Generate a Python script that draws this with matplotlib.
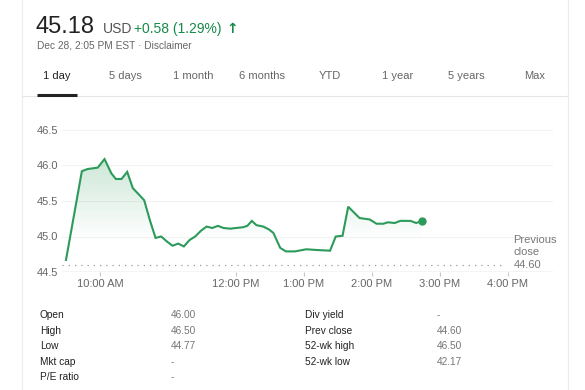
#!/usr/bin/env python3
"""Intraday quote card: 1-day price line with previous close + key stats table."""
import numpy as np
import matplotlib
matplotlib.use("Agg")
import matplotlib.pyplot as plt
from matplotlib.patches import Polygon

plt.rcParams.update({"font.family": ["Liberation Sans", "DejaVu Sans"], "font.size": 8})

# ---- data ----
times = ["9:30", "9:44", "9:49", "9:58", "10:04", "10:10", "10:14", "10:19", "10:24", "10:29",
         "10:35", "10:39", "10:44", "10:49", "10:54", "10:59", "11:04", "11:09", "11:14", "11:19",
         "11:24", "11:29", "11:34", "11:39", "11:44", "11:49", "11:55", "12:00", "12:06", "12:10",
         "12:14", "12:18", "12:24", "12:29", "12:33", "12:39", "12:44", "12:52", "13:02", "13:11",
         "13:23", "13:28", "13:34", "13:39", "13:49", "13:58", "14:04", "14:10", "14:14", "14:20",
         "14:25", "14:34", "14:39", "14:44"]
prices = [44.67, 45.92, 45.95, 45.97, 46.09, 45.89, 45.81, 45.81, 45.91, 45.68,
          45.58, 45.51, 45.23, 44.98, 45.00, 44.93, 44.87, 44.90, 44.86, 44.95,
          45.00, 45.08, 45.14, 45.12, 45.15, 45.12, 45.11, 45.12, 45.13, 45.15,
          45.22, 45.16, 45.14, 45.10, 45.05, 44.84, 44.79, 44.79, 44.82, 44.81,
          44.80, 45.00, 45.01, 45.42, 45.26, 45.24, 45.18, 45.18, 45.20, 45.19,
          45.22, 45.22, 45.19, 45.22]
prev_close = 44.60
yticks = [44.5, 45.0, 45.5, 46.0, 46.5]
xtick_hours = [10, 12, 13, 14, 15, 16]
xtick_labels = ["10:00 AM", "12:00 PM", "1:00 PM", "2:00 PM", "3:00 PM", "4:00 PM"]
tabs = ["1 day", "5 days", "1 month", "6 months", "YTD", "1 year", "5 years", "Max"]
left_labels = ["Open", "High", "Low", "Mkt cap", "P/E ratio"]
left_vals = ["46.00", "46.50", "44.77", "-", "-"]
right_labels = ["Div yield", "Prev close", "52-wk high", "52-wk low"]
right_vals = ["-", "44.60", "46.50", "42.17"]

hours = np.array([int(t.split(":")[0]) + int(t.split(":")[1]) / 60 for t in times])
px = np.array(prices)

GREEN = "#2c9a5a"
W, H = 585, 390
fig = plt.figure(figsize=(W / 100, H / 100), dpi=100)

# overlay in pixel coords for the card chrome / text
ov = fig.add_axes([0, 0, 1, 1])
ov.set_xlim(0, W); ov.set_ylim(H, 0); ov.axis("off")
for xb in (22, 568):
    ov.plot([xb, xb], [0, H], color="#ececec", lw=0.8)
ov.plot([22, 568], [96, 96], color="#e6e6e6", lw=0.8)
ov.plot([37, 77], [95, 95], color="#222222", lw=2.2, solid_capstyle="butt")

ov.text(36, 33, "45.18", fontsize=17, color="#222222", va="baseline")
ov.text(103, 33, "USD", fontsize=10, color="#555555", va="baseline")
ov.text(134, 33, "+0.58 (1.29%)", fontsize=10, color="#168a48", va="baseline")
ov.text(226, 33, "↑", fontsize=10, color="#168a48", va="baseline", fontweight="bold",
        family="DejaVu Sans")
ov.text(37, 48, "Dec 28, 2:05 PM EST · Disclaimer", fontsize=7.3, color="#666666", va="baseline")

for i, t in enumerate(tabs):
    ov.text(57 + 68.2 * i, 76, t, fontsize=8, ha="center", va="center",
            color="#222222" if i == 0 else "#666666")

for i, (l, v) in enumerate(zip(left_labels, left_vals)):
    ov.text(40, 315 + 15.6 * i, l, fontsize=7.3, color="#222222", va="center")
    ov.text(171, 315 + 15.6 * i, v, fontsize=7.3, color="#777777", va="center")
for i, (l, v) in enumerate(zip(right_labels, right_vals)):
    ov.text(305, 315 + 15.6 * i, l, fontsize=7.3, color="#222222", va="center")
    ov.text(437, 315 + 15.6 * i, v, fontsize=7.3, color="#777777", va="center")

# ---- price chart ----
ax = fig.add_axes([62 / W, 1 - 272 / H, (553 - 62) / W, (272 - 125) / H])
ax.patch.set_alpha(0)
x0, x1 = 10 - 38 / 68, 10 + 453 / 68
y0, y1 = 44.5, 44.5 + (272 - 125) / 71
ax.set_xlim(x0, x1); ax.set_ylim(y0, y1)

for yv in yticks[1:]:
    ax.axhline(yv, color="#f2f2f2", lw=0.8, zorder=0)
ax.axhline(y0, color="#c8c8c8", lw=1.0, zorder=1)

# gradient fill under the line, clipped to the area polygon
grad = np.linspace(0, 1, 256)
rgba = np.zeros((256, 1, 4))
rgba[:, 0, :3] = matplotlib.colors.to_rgb(GREEN)
rgba[:, 0, 3] = grad * 0.24
img = ax.imshow(rgba, extent=[hours.min(), hours.max(), 44.95, max(prices)], origin="lower",
                aspect="auto", zorder=1)
verts = np.vstack([[hours[0], y0], np.column_stack([hours, px]), [hours[-1], y0]])
clip = Polygon(verts, closed=True, transform=ax.transData, facecolor="none", edgecolor="none")
ax.add_patch(clip)
img.set_clip_path(clip)
ax.set_xlim(x0, x1); ax.set_ylim(y0, y1)

ax.plot(hours, px, color=GREEN, lw=1.5, zorder=3, solid_joinstyle="miter")
ax.plot(hours[-1], px[-1], "o", color=GREEN, ms=5, zorder=4)
ax.plot([x0, 15.95], [prev_close, prev_close], color="#9a9a9a", lw=0.9,
        linestyle=(0, (1, 4)), zorder=2)
ax.text(16.08, prev_close - 0.07, f"Previous\nclose\n{prev_close:.2f}", fontsize=8,
        color="#777777", va="bottom", ha="left", linespacing=1.3,
        transform=ax.transData, clip_on=False)

ax.set_yticks(yticks)
ax.set_yticklabels([f"{v:.1f}" for v in yticks])
ax.set_xticks(xtick_hours)
ax.set_xticklabels(xtick_labels)
ax.tick_params(axis="y", length=0, pad=3, labelsize=8, labelcolor="#666666")
ax.tick_params(axis="x", length=3, color="#c8c8c8", pad=2, labelsize=8, labelcolor="#666666")
for s in ax.spines.values():
    s.set_visible(False)

fig.savefig("out.png", dpi=100)
